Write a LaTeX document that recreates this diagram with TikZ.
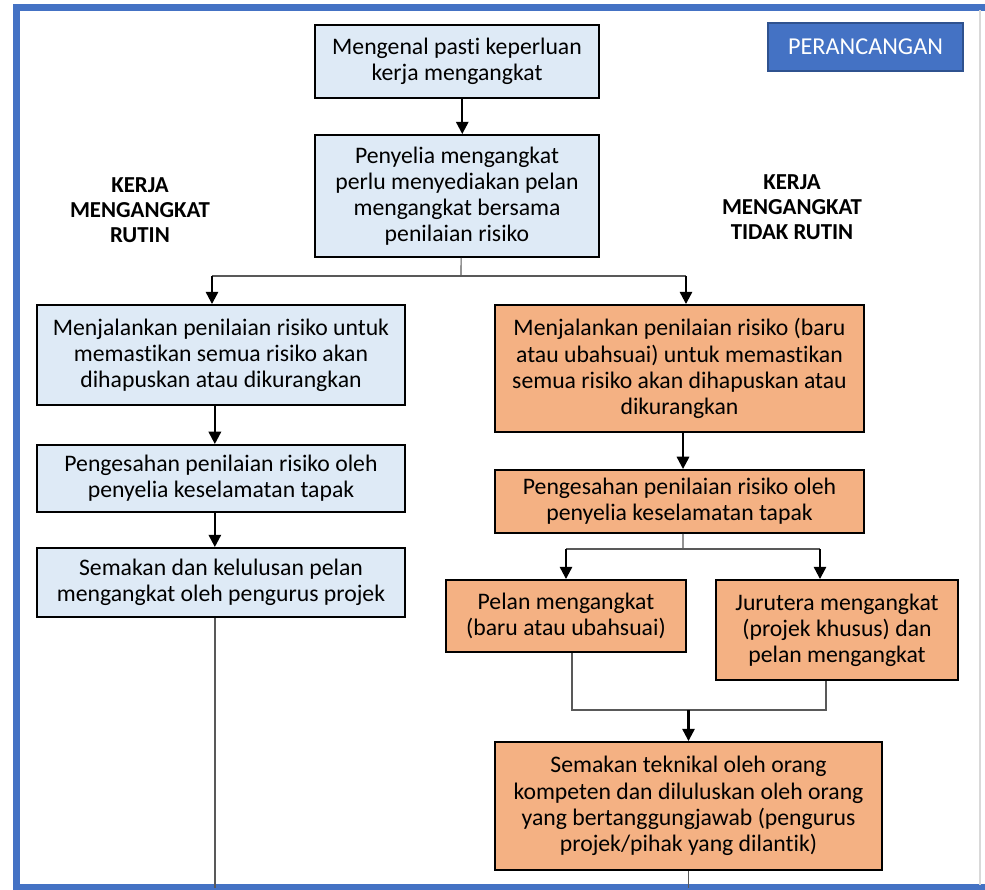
\documentclass[tikz,border=0pt]{standalone}
\usepackage{fontspec}
\setmainfont{Carlito}[Ligatures={NoCommon}]
\usetikzlibrary{arrows.meta}

\definecolor{boxblue}{HTML}{DEEAF6}
\definecolor{boxorange}{HTML}{F4B183}
\definecolor{tagblue}{HTML}{4472C4}
\definecolor{tagedge}{HTML}{2F528F}
\definecolor{linegrey}{HTML}{595959}

\tikzset{
  box/.style={draw, line width=1.1pt, align=center, inner sep=0pt,
              font=\fontsize{13.5}{14.9}\selectfont},
  blue box/.style={box, fill=boxblue},
  orange box/.style={box, fill=boxorange},
  link/.style={draw=linegrey, line width=0.6pt},
  arrow/.style={line width=1.3pt, -{Triangle[length=7pt,width=7pt]}},
  heading/.style={align=center, font=\bfseries\fontsize{13}{14.3}\selectfont},
}

\begin{document}
\begin{tikzpicture}[x=0.02cm, y=-0.02cm]
   \useasboundingbox (0,0) rectangle (985,890);

   % frame
   \draw[tagblue, line width=3.6pt] (985,7.5) -- (16.5,7.5) -- (16.5,887.5) -- (985,887.5);
   \draw[black!15, line width=0.6pt] (980,10) -- (980,885);

   \node [draw=tagedge, line width=0.8pt, fill=tagblue, text=white, minimum width=3.9cm, minimum height=0.96cm,
          font=\fontsize{13.8}{15}\selectfont] (tag) at (865.5,47) {PERANCANGAN};

   \node [heading] (rutin) at (140,210) {KERJA\\MENGANGKAT\\RUTIN};
   \node [heading] (tdkrutin) at (792,207) {KERJA\\MENGANGKAT\\TIDAK RUTIN};

   % common steps
   \node [blue box, minimum width=5.68cm, minimum height=1.46cm] (t1) at (457,61.5)
        {Mengenal pasti keperluan\\kerja mengangkat};
   \node [blue box, minimum width=5.68cm, minimum height=2.44cm] (t2) at (457,196)
        {Penyelia mengangkat\\perlu menyediakan pelan\\mengangkat bersama\\penilaian risiko};

   % routine lifting
   \node [blue box, minimum width=7.36cm, minimum height=2.0cm] (L1) at (221,355)
        {Menjalankan penilaian risiko untuk\\memastikan semua risiko akan\\dihapuskan atau dikurangkan};
   \node [blue box, minimum width=7.36cm, minimum height=1.34cm] (L2) at (221,478.5)
        {Pengesahan penilaian risiko oleh\\penyelia keselamatan tapak};
   \node [blue box, minimum width=7.36cm, minimum height=1.38cm] (L3) at (221,582.5)
        {Semakan dan kelulusan pelan\\mengangkat oleh pengurus projek};

   % non-routine lifting
   \node [orange box, minimum width=7.38cm, minimum height=2.54cm] (R1) at (679.5,368.5)
        {Menjalankan penilaian risiko (baru\\atau ubahsuai) untuk memastikan\\semua risiko akan dihapuskan atau\\dikurangkan};
   \node [orange box, minimum width=7.38cm, minimum height=1.26cm] (R2) at (679.5,501.5)
        {Pengesahan penilaian risiko oleh\\penyelia keselamatan tapak};
   \node [orange box, minimum width=4.8cm, minimum height=1.44cm] (R3a) at (566,616)
        {Pelan mengangkat\\(baru atau ubahsuai)};
   \node [orange box, minimum width=4.84cm, minimum height=2.0cm] (R3b) at (837,630)
        {Jurutera mengangkat\\(projek khusus) dan\\pelan mengangkat};
   \node [orange box, minimum width=7.74cm, minimum height=2.56cm] (R4) at (688.5,806)
        {Semakan teknikal oleh orang\\kompeten dan diluluskan oleh orang\\yang bertanggungjawab (pengurus\\projek/pihak yang dilantik)};

   \coordinate (split1) at (461,276);
   \coordinate (split2) at (683,549);
   \coordinate (merge) at (688.5,710);
   \coordinate (bottom) at (0,887.5);

   % straight steps, shifted off centre where the lines sit
   \foreach \a/\b/\s in {t1/t2/3pt, L1/L2/-3.5pt, L2/L3/-3.5pt, R1/R2/2pt}
      \draw[arrow] ([xshift=\s]\a.south) -- ([xshift=\s]\b.north);

   \draw[link] ([xshift=2.3pt]t2.south) -- (split1);
   \draw[link] (split1 -| 212,0) -- (split1 -| 686,0);
   \draw[arrow] (split1 -| 212,0) -- (L1.north -| 212,0);
   \draw[arrow] (split1 -| 686,0) -- (R1.north -| 686,0);

   \draw[link] ([xshift=2pt]R2.south) -- (split2);
   \draw[link] (split2 -| R3a.north) -- (split2 -| 820,0);
   \draw[arrow] (split2 -| R3a.north) -- (R3a.north);
   \draw[arrow] (split2 -| 820,0) -- (R3b.north -| 820,0);

   \draw[link] (R3a.south -| 572,0) -- (merge -| 572,0) -- (merge -| 826,0) -- (R3b.south -| 826,0);
   \draw[arrow] (merge) -- (R4.north);

   \draw[link] (L3.south -| 215,0) -- (bottom -| 215,0);
   \draw[link] (R4.south) -- (R4.south |- bottom);
\end{tikzpicture}
\end{document}
